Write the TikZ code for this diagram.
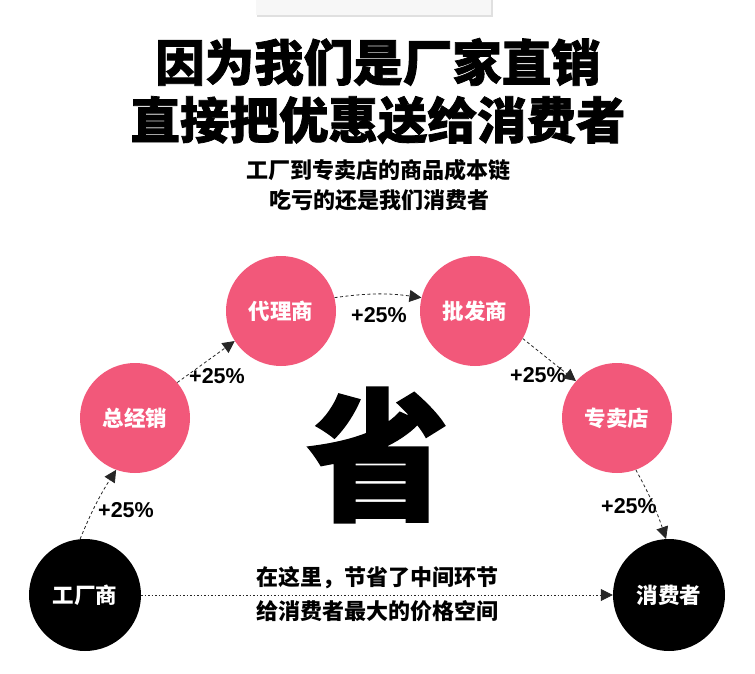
\documentclass[tikz,border=0pt]{standalone}
\usepackage{fontspec}
\setmainfont{Liberation Sans}
\newfontfamily\cjk{Noto Sans CJK SC}
\newfontfamily\cjkheavy{Noto Sans CJK SC}[BoldFeatures={FakeBold=1.5}]
\usetikzlibrary{arrows.meta}
\definecolor{pinkc}{RGB}{242,88,122}
\tikzset{
  pinkcirc/.style={circle,fill=pinkc,minimum size=110pt,inner sep=0pt,text=white,font=\cjk\bfseries\fontsize{21.5}{24}\selectfont},
  blackcirc/.style={circle,fill=black,minimum size=112pt,inner sep=0pt,text=white,font=\cjk\bfseries\fontsize{21.5}{24}\selectfont},
  pct/.style={font=\bfseries\fontsize{21.5}{23}\selectfont},
  conn/.style={draw=black!85,line width=0.8pt,dash pattern=on 3pt off 2.5pt,-{Triangle[length=12pt,width=12pt]}},
  title/.style={font=\cjkheavy\bfseries\fontsize{49.5}{52}\selectfont},
  sub/.style={font=\cjk\bfseries\fontsize{22}{24}\selectfont},
}
\begin{document}
\begin{tikzpicture}[x=1pt,y=-1pt]
\useasboundingbox (0,0) rectangle (755,674);
% top box
\fill[black!12] (257,-2) rectangle (493,17);
\fill[black!3] (256,-2) rectangle (491,15);
% titles
\node[title] (t1) at (378,62) {因为我们是厂家直销};
\node[title] (t2) at (378,120) {直接把优惠送给消费者};
\node[sub] (s1) at (378,170) {工厂到专卖店的商品成本链};
\node[sub] (s2) at (379,200) {吃亏的还是我们消费者};
% circles
\node[blackcirc] (fac) at (85,595) {工厂商};
\node[pinkcirc] (zjx) at (135,418) {总经销};
\node[pinkcirc] (dls) at (281,311) {代理商};
\node[pinkcirc] (pfs) at (475,311) {批发商};
\node[pinkcirc] (zmd) at (617,418) {专卖店};
\node[blackcirc] (xfz) at (669,595) {消费者};
% big character
\node[font=\cjkheavy\bfseries\fontsize{142}{142}\selectfont] (sheng) at (378,455) {省};
% percentages
\node[pct] (p1) at (126,510) {+25\%};
\node[pct] (p2) at (217,376) {+25\%};
\node[pct] (p3) at (379,315) {+25\%};
\node[pct] (p4) at (538,375) {+25\%};
\node[pct] (p5) at (629,506) {+25\%};
% connectors
\draw[conn] (fac.95) to[bend left=5] (zjx.250);
\draw[conn] (zjx.40) -- (dls.213);
\draw[conn] (dls.14) to[bend left=8] (pfs.166);
\draw[conn] (pfs.-30) -- (zmd.138);
\draw[conn] (zmd.-70) to[bend left=5] (xfz.93);
\draw[conn,dash pattern=on 1.5pt off 2pt] (fac.east) -- (xfz.west);
% bottom text
\node[sub] (b1) at (377,578) {在这里，节省了中间环节};
\node[sub] (b2) at (377,611) {给消费者最大的价格空间};
\end{tikzpicture}
\end{document}
